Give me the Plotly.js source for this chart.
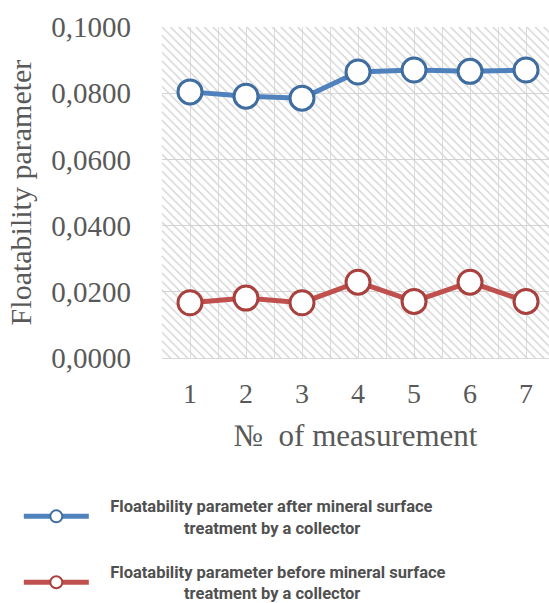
<!DOCTYPE html>
<html>
<head>
<meta charset="utf-8">
<script src="https://cdn.plot.ly/plotly-3.0.1.min.js"></script>
<style>
html,body{margin:0;padding:0;background:#fff;}
#chart{width:549px;height:603px;}
</style>
</head>
<body>
<div id="chart"></div>
<script>
// ---- data ----
const measurements = [1, 2, 3, 4, 5, 6, 7];
const afterCollector = [0.0804, 0.0791, 0.0785, 0.0864, 0.0870, 0.0866, 0.0870];
const beforeCollector = [0.0167, 0.0181, 0.0167, 0.0229, 0.0171, 0.0229, 0.0171];
const pad1 = "\u00a0".repeat(4);
const pad2 = "\u00a0".repeat(22);
const seriesNames = [
  pad1 + "Floatability parameter after mineral surface<br>" + pad2 + "treatment by a collector",
  pad1 + "Floatability parameter before mineral surface<br>" + pad2 + "treatment by a collector"
];
const yTickVals = [0, 0.02, 0.04, 0.06, 0.08, 0.1];

// ---- layout constants ----
const xRange = [0.5, 7.41];
const yRange = [0, 0.1];
const serif = '"Liberation Serif", "Times New Roman", serif';
const grey = '#595959';

const bg = {
  type: 'bar',
  x: [(xRange[0] + xRange[1]) / 2],
  y: [yRange[1]],
  width: [xRange[1] - xRange[0]],
  marker: {
    color: 'rgba(0,0,0,0)',
    line: {width: 0},
    pattern: {shape: '\\', fgcolor: '#d2d2d2', bgcolor: 'rgba(0,0,0,0)', size: 6, solidity: 0.22, fillmode: 'replace'}
  },
  hoverinfo: 'skip',
  showlegend: false
};

const blue = {
  type: 'scatter', mode: 'lines+markers',
  x: measurements, y: afterCollector, name: seriesNames[0],
  line: {color: '#4f81bd', width: 5},
  marker: {size: 24, color: '#ffffff', line: {color: '#3f6d9f', width: 3}},
  legendgroup: 'a'
};
const red = {
  type: 'scatter', mode: 'lines+markers',
  x: measurements, y: beforeCollector, name: seriesNames[1],
  line: {color: '#c0504d', width: 5},
  marker: {size: 24, color: '#ffffff', line: {color: '#a8403d', width: 3}},
  legendgroup: 'b'
};

const layout = {
  width: 549, height: 603,
  margin: {l: 162, r: 0, t: 27, b: 245, pad: 0, autoexpand: false},
  paper_bgcolor: '#ffffff',
  plot_bgcolor: '#ffffff',
  separators: ',.',
  showlegend: true,
  xaxis: {
    range: xRange,
    tickmode: 'array',
    tickvals: measurements,
    ticktext: measurements.map(String),
    ticks: '',
    showgrid: true, gridcolor: '#dcdcdc', gridwidth: 1,
    minor: {tick0: 0.5, dtick: 1, showgrid: true, gridcolor: '#dcdcdc', gridwidth: 1, ticks: ''},
    zeroline: false,
    showline: true, linecolor: '#d9d9d9', linewidth: 1,
    tickfont: {family: serif, size: 28, color: grey},
    ticklabelstandoff: 10,
    title: {text: '№  of measurement', font: {family: serif, size: 31, color: grey}, standoff: 16}
  },
  yaxis: {
    range: yRange,
    tickmode: 'array',
    tickvals: yTickVals,
    tickformat: '.4f',
    ticks: '',
    showgrid: true, gridcolor: '#d4d4d4', gridwidth: 1,
    zeroline: false,
    showline: false,
    tickfont: {family: serif, size: 29, color: grey},
    ticklabelstandoff: 30,
    title: {text: 'Floatability parameter', font: {family: serif, size: 30, color: grey}, standoff: 10}
  },
  legend: {
    x: -0.37, xanchor: 'left',
    y: -0.394, yanchor: 'top',
    orientation: 'v',
    traceorder: 'grouped',
    tracegroupgap: 20,
    itemsizing: 'constant',
    itemwidth: 65,
    bgcolor: 'rgba(0,0,0,0)',
    font: {family: 'Roboto, "Liberation Sans", sans-serif', size: 16.5, color: '#505050', weight: 'bold'}
  },
  hovermode: false
};

Plotly.newPlot('chart', [bg, blue, red], layout, {displayModeBar: false, staticPlot: true});
</script>
</body>
</html>
